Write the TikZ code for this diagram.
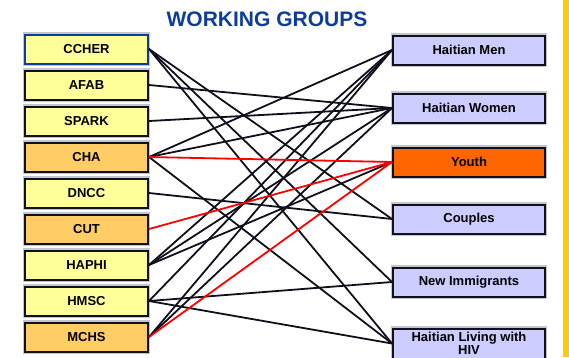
\documentclass[tikz,border=0pt]{standalone}
\usepackage{fontspec}
\setmainfont{Liberation Sans}
\definecolor{lyellow}{HTML}{FFFF99}
\definecolor{lorange}{HTML}{FFCC66}
\definecolor{lav}{HTML}{CCCCFF}
\definecolor{youthor}{HTML}{FF6600}
\definecolor{titleblue}{HTML}{0D3D9C}
\definecolor{bord}{HTML}{10101C}
\definecolor{barcol}{HTML}{FFCC00}
\definecolor{shade}{HTML}{C4C6CE}
\begin{document}
\begin{tikzpicture}[x=1pt,y=-1pt,
  boxbase/.style={rectangle,draw=bord,line width=2pt,inner sep=0pt,
    font=\fontsize{13}{14}\selectfont\bfseries,text=black,
    preaction={draw=shade,line width=4.5pt}},
  lbox/.style={boxbase,minimum width=123pt,minimum height=29pt},
  rbox/.style={boxbase,minimum width=152pt,minimum height=29pt,fill=lav,align=center},
  link/.style={draw=bord,line width=1.8pt},
  rlink/.style={draw=red,line width=1.8pt}]
\useasboundingbox (0,0) rectangle (569,357);
\fill[barcol] (563,0) rectangle (569,357);
\node[font=\fontsize{21}{23}\selectfont\bfseries,text=titleblue] (title) at (267,19) {WORKING GROUPS};
% left
\node[lbox,fill=lyellow,draw=titleblue] (ccher) at (86.5,49) {CCHER};
\node[lbox,fill=lyellow] (afab) at (86.5,85) {AFAB};
\node[lbox,fill=lyellow] (spark) at (86.5,121) {SPARK};
\node[lbox,fill=lorange] (cha) at (86.5,157) {CHA};
\node[lbox,fill=lyellow] (dncc) at (86.5,193) {DNCC};
\node[lbox,fill=lorange] (cut) at (86.5,229) {CUT};
\node[lbox,fill=lyellow] (haphi) at (86.5,265) {HAPHI};
\node[lbox,fill=lyellow] (hmsc) at (86.5,301) {HMSC};
\node[lbox,fill=lorange] (mchs) at (86.5,337) {MCHS};
% right
\node[rbox] (hm) at (469,50) {Haitian Men};
\node[rbox] (hw) at (469,108) {Haitian Women};
\node[rbox,fill=youthor] (youth) at (469,162) {Youth};
\node[rbox] (coup) at (469,219) {Couples};
\node[rbox] (ni) at (469,282) {New Immigrants};
\node[rbox,minimum height=30pt,font=\fontsize{13}{13.5}\selectfont\bfseries] (hiv) at (469,343.5) {Haitian Living with\\HIV};
% links
\draw[link] (ccher.east) -- (coup.west);
\draw[link] (ccher.east) -- (ni.west);
\draw[link] (ccher.east) -- (hiv.west);
\draw[link] (afab.east) -- (hw.west);
\draw[link] (spark.east) -- (hw.west);
\draw[link] (cha.east) -- (hm.west);
\draw[link] (cha.east) -- (hw.west);
\draw[link] (cha.east) -- (hiv.west);
\draw[link] (dncc.east) -- (coup.west);
\draw[link] (haphi.east) -- (hm.west);
\draw[link] (haphi.east) -- (hw.west);
\draw[link] (haphi.east) -- (youth.west);
\draw[link] (hmsc.east) -- (hm.west);
\draw[link] (hmsc.east) -- (ni.west);
\draw[link] (hmsc.east) -- (hiv.west);
\draw[link] (mchs.east) -- (hm.west);
\draw[link] (mchs.east) -- (hw.west);
\draw[rlink] (cha.east) -- (youth.west);
\draw[rlink] (cut.east) -- (youth.west);
\draw[rlink] (mchs.east) -- (youth.west);
\end{tikzpicture}
\end{document}
